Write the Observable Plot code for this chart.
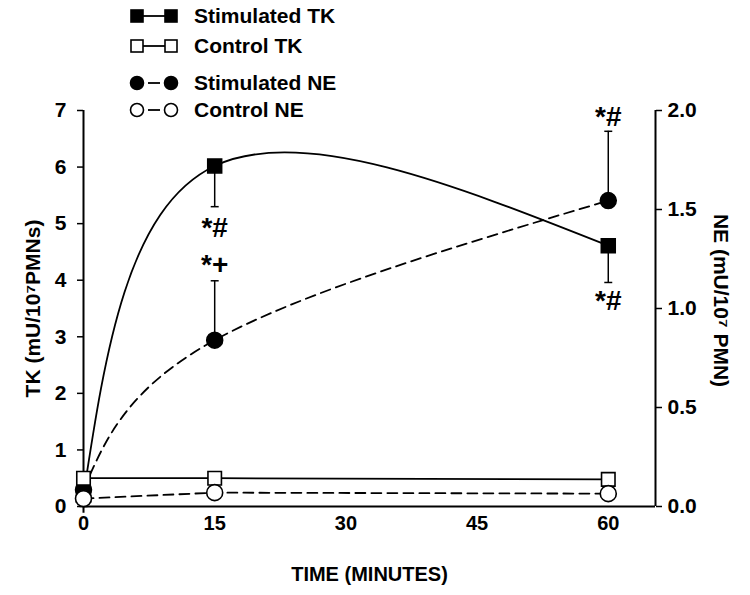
<!DOCTYPE html>
<html>
<head>
<meta charset="utf-8">
<script src="https://cdn.jsdelivr.net/npm/d3@7"></script>
<script src="https://cdn.jsdelivr.net/npm/@observablehq/plot@0.6"></script>
<style>
  html, body { margin: 0; padding: 0; background: white; }
  #wrap { position: relative; width: 750px; height: 595px; font-family: "Liberation Sans", Arial, sans-serif; font-weight: bold; }
  #legend { position: absolute; left: 128px; top: 0px; }
  .row { position: absolute; left: 0; display: flex; align-items: center; white-space: nowrap; font-size: 21px; }
  .row svg { margin-right: 14px; }
</style>
</head>
<body>
<div id="wrap"><div id="legend"></div></div>
<script>
// ---- data ----
const times = [0, 15, 60];
const stimTK = [0.2, 6.02, 4.61];
const stimTKLow = [null, 5.3, 3.96];
const ctrlTK = [0.5, 0.5, 0.48];
const stimNE = [0.085, 0.84, 1.545];
const stimNEHigh = [null, 1.14, 1.895];
const ctrlNE = [0.04, 0.07, 0.065];
const xTicks = [0, 15, 30, 45, 60];
const tkTicks = [0, 1, 2, 3, 4, 5, 6, 7];
const neTicks = [0, 0.5, 1.0, 1.5, 2.0];
const annoX = [15, 15, 60, 60];
const annoTK = [4.93, 4.26, 6.88, 3.64];
const annoText = ["*#", "*+", "*#", "*#"];
const legendLabels = ["Stimulated TK", "Control TK", "Stimulated NE", "Control NE"];
const rightLabel = "NE (mU/10⁷ PMN)";

const NE_SCALE = 7 / 2; // NE axis 0..2 mapped onto TK axis 0..7
const rows = (ys) => times.map((t, i) => ({t, v: ys[i]}));
const sTK = rows(stimTK);
const cTK = rows(ctrlTK);
const sNE = times.map((t, i) => ({t, v: stimNE[i] * NE_SCALE}));
const cNE = times.map((t, i) => ({t, v: ctrlNE[i] * NE_SCALE}));
const errTK = times.map((t, i) => ({t, y1: stimTK[i], y2: stimTKLow[i]})).filter(d => d.y2 != null);
const errNE = times.map((t, i) => ({t, y1: stimNE[i] * NE_SCALE, y2: stimNEHigh[i] * NE_SCALE})).filter(d => d.y2 != null);
const annos = annoX.map((x, i) => ({x, y: annoTK[i], s: annoText[i]}));

const capSymbol = { draw(ctx, size) { const w = Math.sqrt(size) / 2; ctx.moveTo(-w, 0); ctx.lineTo(w, 0); } };
const XMAX = 65.4;

const chart = Plot.plot({
  width: 750, height: 595,
  marginLeft: 83, marginRight: 95, marginTop: 110, marginBottom: 89,
  x: {domain: [0, XMAX]},
  y: {domain: [0, 7]},
  style: {fontFamily: '"Liberation Sans", Arial, sans-serif', fontWeight: "bold", fontSize: "21px", color: "black", background: "white", overflow: "visible"},
  marks: [
    Plot.axisX({ticks: xTicks, tickFormat: d => String(d), tickSize: 0, tickPadding: 9, label: "TIME (MINUTES)", labelArrow: "none", labelAnchor: "center", labelOffset: 74, fontSize: 20}),
    Plot.axisY({ticks: tkTicks, tickFormat: d => String(d), tickSize: 6, tickPadding: 11, strokeWidth: 1.5, label: "TK (mU/10⁷PMNs)", labelArrow: "none", labelAnchor: "center", labelOffset: 58, fontSize: 21}),
    Plot.axisY({anchor: "right", ticks: neTicks.map(d => d * NE_SCALE), tickFormat: d => (d / NE_SCALE).toFixed(1), tickSize: 6, tickPadding: 6, strokeWidth: 1.5, label: null, fontSize: 21}),
    Plot.text([rightLabel], {frameAnchor: "right", textAnchor: "middle", dx: 65, dy: -8, rotate: 90, fontSize: 21, fontWeight: "bold", fill: "black"}),
    Plot.ruleX([0], {y1: -0.12, y2: 7, strokeWidth: 2}),
    Plot.ruleX([XMAX], {y1: 0, y2: 7, strokeWidth: 2}),
    Plot.ruleY([0], {x1: 0, x2: XMAX, strokeWidth: 2.2}),
    // lines
    Plot.line(sTK, {x: "t", y: "v", curve: "natural", stroke: "black", strokeWidth: 1.8}),
    Plot.line(cTK, {x: "t", y: "v", stroke: "black", strokeWidth: 1.8}),
    Plot.line(sNE, {x: "t", y: "v", curve: "natural", stroke: "black", strokeWidth: 1.8, strokeDasharray: "10,6"}),
    Plot.line(cNE, {x: "t", y: "v", stroke: "black", strokeWidth: 1.8, strokeDasharray: "10,6"}),
    // error bars
    Plot.ruleX(errTK, {x: "t", y1: "y1", y2: "y2", strokeWidth: 1.5}),
    Plot.dot(errTK, {x: "t", y: "y2", symbol: capSymbol, r: 4.5, stroke: "black", strokeWidth: 1.5}),
    Plot.ruleX(errNE, {x: "t", y1: "y1", y2: "y2", strokeWidth: 1.5}),
    Plot.dot(errNE, {x: "t", y: "y2", symbol: capSymbol, r: 4.5, stroke: "black", strokeWidth: 1.5}),
    // markers
    Plot.dot(sTK, {x: "t", y: "v", symbol: "square", r: 7.9, fill: "black", stroke: "black"}),
    Plot.dot(sNE, {x: "t", y: "v", symbol: "circle", r: 8, fill: "black", stroke: "black"}),
    Plot.dot(cTK, {x: "t", y: "v", symbol: "square", r: 7.6, fill: "white", stroke: "black", strokeWidth: 1.6}),
    Plot.dot(cNE, {x: "t", y: "v", symbol: "circle", r: 8, fill: "white", stroke: "black", strokeWidth: 1.6}),
    // significance marks
    Plot.text(annos, {x: "x", y: "y", text: "s", fontSize: 28, fontWeight: "bold", fill: "black"})
  ]
});
document.getElementById("wrap").prepend(chart);

// legend (HTML overlay above the top of the axes)
const legendY = [16, 46, 83, 110];
const legendSym = [
  {shape: "square", fill: "black", gap: false},
  {shape: "square", fill: "white", gap: false},
  {shape: "circle", fill: "black", gap: true},
  {shape: "circle", fill: "white", gap: true}
];
const leg = document.getElementById("legend");
legendLabels.forEach((lab, i) => {
  const s = legendSym[i];
  const row = document.createElement("div");
  row.className = "row";
  row.style.top = (legendY[i] - 13) + "px";
  const shp = (cx) => s.shape === "square"
    ? `<rect x="${cx - 6}" y="7" width="12" height="12" fill="${s.fill}" stroke="black" stroke-width="1.6"/>`
    : `<circle cx="${cx}" cy="13" r="6.5" fill="${s.fill}" stroke="black" stroke-width="1.6"/>`;
  const ln = s.gap
    ? `<line x1="20" x2="32" y1="13" y2="13" stroke="black" stroke-width="1.8"/>`
    : `<line x1="10" x2="42" y1="13" y2="13" stroke="black" stroke-width="1.8"/>`;
  row.innerHTML = `<svg width="52" height="26">${ln}${shp(9)}${shp(43)}</svg><span>${lab}</span>`;
  leg.appendChild(row);
});
</script>
</body>
</html>
